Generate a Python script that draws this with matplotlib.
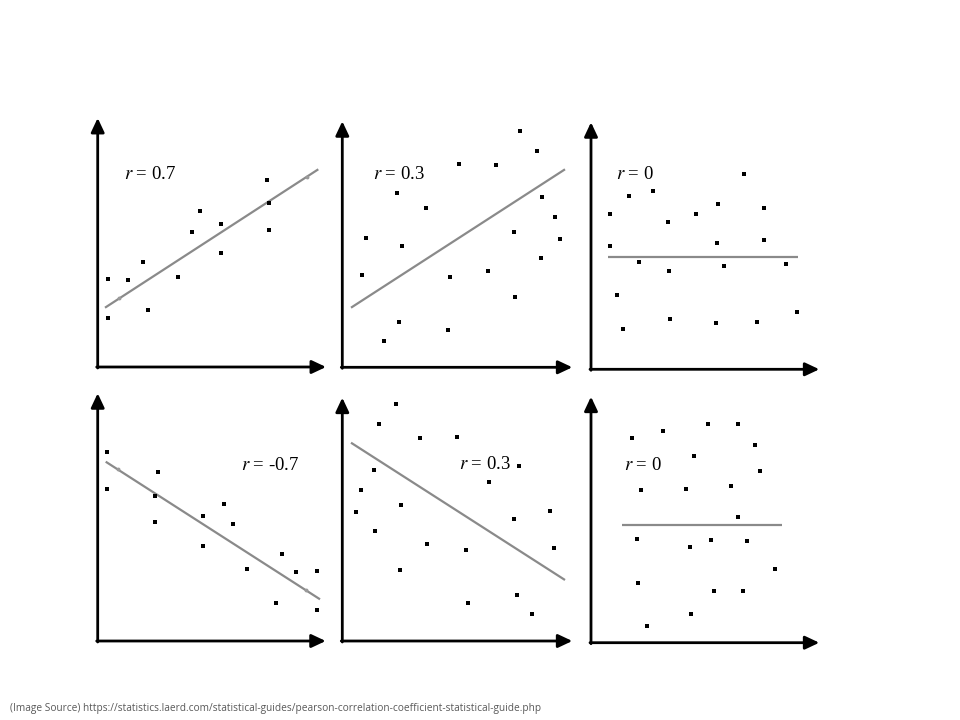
import matplotlib
matplotlib.use("Agg")
import matplotlib.pyplot as plt
import numpy as np

plt.rcParams['mathtext.fontset'] = 'stix'

FW, FH = 960, 720

# panel frames in pixels: origin x, origin y (from top), axis width, axis height
frames = [
    (97.7, 367.0, 228.3, 249.0),
    (342.3, 367.3, 230.0, 246.0),
    (591.0, 369.3, 228.3, 247.0),
    (97.7, 641.0, 228.0, 247.7),
    (342.3, 641.0, 230.0, 243.3),
    (591.0, 642.7, 228.3, 246.0),
]

labels = ['$r$ = 0.7', '$r$ = 0.3', '$r$ = 0', '$r$ = -0.7', '$r$ = 0.3', '$r$ = 0']
label_pos = [(26.5, 192.5), (30.5, 192.5), (25.0, 194.5), (143.5, 175.5), (117.0, 176.8), (33.5, 177.2)]

# scatter points, x and y measured from each panel's origin
p1_x = [10, 10, 30.6, 45, 50.6, 80, 94, 102.6, 123.6, 123.6, 169, 171.6, 171.6]
p1_y = [88, 49.3, 87, 105.3, 56.7, 90.3, 135.3, 155.7, 143.3, 113.7, 187.3, 163.7, 137.3]
p2_x = [177.7, 194.7, 116.4, 154, 54.4, 83.7, 199.4, 212.7, 23.4, 59.4, 172, 217.7, 198.4,
        19.4, 107.4, 146, 172.7, 56.4, 105.7, 41.4]
p2_y = [236.6, 216.3, 203.3, 202, 174.3, 159, 170, 150.6, 129.3, 121.6, 135.6, 128.3, 109,
        92.6, 90.6, 96.6, 70, 45.6, 37.3, 26.3]
p3_x = [153.3, 38, 62.3, 19, 76.7, 105, 126.7, 173.3, 19, 126, 173.3, 48.3, 78.3, 132.7,
        195.3, 25.7, 32, 79.3, 125, 165.7, 205.7]
p3_y = [195, 173.3, 178.6, 155, 147.6, 155, 165, 161, 123.3, 126.3, 129.3, 107.6, 98.3, 103.6,
        105, 74, 40.3, 50.6, 46.6, 47.6, 57]
p4_x = [9.3, 9.3, 60, 57.3, 57.3, 105.6, 126.6, 135, 105.6, 149.3, 184.3, 198.3, 219.3, 178.3, 219.3]
p4_y = [189.3, 151.7, 168.7, 145.3, 119, 125, 137.3, 116.7, 95.3, 71.7, 87, 68.7, 69.7, 38, 31]
p5_x = [53.4, 36.4, 77.4, 115, 176.4, 147, 31.7, 18.4, 13.7, 59, 172, 208, 32.7, 84.7,
        123.4, 211.7, 58, 174.7, 125.7, 190]
p5_y = [237.3, 216.7, 202.7, 204.3, 175.3, 159.3, 171, 151.3, 129, 136.3, 122.3, 130, 109.7, 97.3,
        91.3, 93.3, 70.7, 46, 38, 26.7]
p6_x = [40.7, 72, 117.3, 146.7, 163.7, 103.3, 168.7, 50, 94.7, 140, 146.7, 46.3, 99.3, 120,
        156.3, 183.7, 47.3, 123, 152.3, 100.3, 55.7]
p6_y = [204.4, 211.4, 218.7, 218.7, 198, 187, 171.4, 153, 154, 156.4, 125.7, 104, 95.7, 103,
        102, 73.4, 60, 52, 52, 28.4, 17]

# faint points lying on the fitted lines
faint = [([21.6, 209], [68.7, 190.3]), ([], []), ([], []),
         ([20.6, 208], [172, 51]), ([], []), ([], [])]

# fitted lines: (x0, y0, x1, y1)
fits = [
    (7.3, 59.3, 220.6, 197.7),
    (8.7, 59.6, 222.7, 198.0),
    (17.3, 112.3, 207.3, 112.3),
    (8.0, 179.3, 222.3, 41.7),
    (8.7, 198.3, 222.7, 61.0),
    (31.3, 117.4, 191.3, 117.4),
]

xs = [p1_x, p2_x, p3_x, p4_x, p5_x, p6_x]
ys = [p1_y, p2_y, p3_y, p4_y, p5_y, p6_y]

fig = plt.figure(figsize=(9.6, 7.2), dpi=100)

for i in range(6):
    ox, oy, w, h = frames[i]
    ax = fig.add_axes([ox / FW, (FH - oy) / FH, w / FW, h / FH])
    ax.set_xlim(0, w)
    ax.set_ylim(0, h)
    ax.axis('off')

    arrow = dict(arrowstyle='-|>,head_length=0.85,head_width=0.4', lw=2.0,
                 color='black', shrinkA=0, shrinkB=0)
    ax.annotate('', xy=(w, 0), xytext=(-1, 0), arrowprops=arrow, annotation_clip=False)
    ax.annotate('', xy=(0, h), xytext=(0, -1), arrowprops=arrow, annotation_clip=False)

    x0, y0, x1, y1 = fits[i]
    ax.plot([x0, x1], [y0, y1], color='#8a8a8a', lw=1.6, solid_capstyle='butt')

    ax.plot(xs[i], ys[i], 's', color='black', ms=2.6, mew=0)
    fx, fy = faint[i]
    if fx:
        ax.plot(fx, fy, 'o', color='#9a9a9a', ms=2.8, mew=0)

    lx, ly = label_pos[i]
    ax.text(lx, ly, labels[i], fontsize=13.5, family='Liberation Serif',
            va='center', ha='left', color='black')

fig.text(10 / FW, 1 - 708 / FH,
         '(Image Source) https://statistics.laerd.com/statistical-guides/pearson-correlation-coefficient-statistical-guide.php',
         fontsize=7.3, family='Open Sans', color='#595959', va='center', ha='left')

fig.savefig('out.png', dpi=100)
